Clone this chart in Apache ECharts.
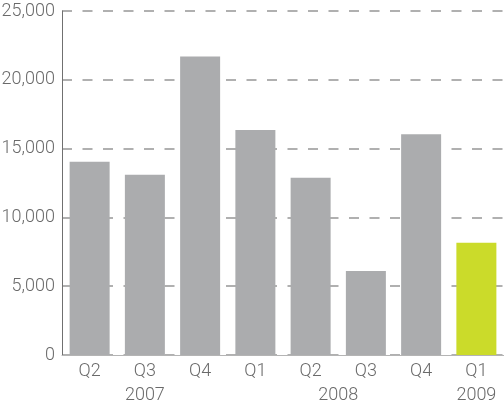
<!DOCTYPE html>
<html>
<head>
<meta charset="utf-8">
<script src="https://cdn.jsdelivr.net/npm/echarts@6/dist/echarts.min.js"></script>
<style>
html,body{margin:0;padding:0;background:#fff;}
#chart{width:504px;height:406px;}
</style>
</head>
<body>
<div id="chart"></div>
<script>
var quarters = ['Q2','Q3','Q4','Q1','Q2','Q3','Q4','Q1'];
var values = [14050, 13100, 21700, 16350, 12880, 6100, 16050, 8150];
var highlightIndex = 7;
var years = ['2007','2008','2009'];
var yearStart = [0, 3, 7];   // first category index of each year
var yearEnd = [3, 7, 8];     // one past the last category index
var yTicks = [0, 5000, 10000, 15000, 20000, 25000];

var FONT = 'Roboto, "Liberation Sans", sans-serif';
var FW = 300;
var FS = 18;
var TXT = '#6a6a6a';

var yearAt = {};
for (var i = 0; i < years.length; i++) {
  yearAt[((yearStart[i] + yearEnd[i]) / 2).toFixed(1)] = years[i];
}

var chart = echarts.init(document.getElementById('chart'), null, {renderer: 'canvas'});
chart.setOption({
  animation: false,
  grid: {left: 62, right: 0, top: 11, bottom: 51, containLabel: false, outerBoundsMode: 'none'},
  xAxis: [{
    type: 'category',
    data: quarters,
    axisLine: {show: true, lineStyle: {color: '#b4b4b4', width: 1}},
    axisTick: {show: false},
    axisLabel: {color: TXT, fontFamily: FONT, fontWeight: FW, fontSize: FS, margin: 7, interval: 0}
  }, {
    type: 'value',
    position: 'bottom',
    min: 0, max: quarters.length, interval: 0.5,
    axisLine: {show: false},
    axisTick: {show: false},
    splitLine: {show: false},
    axisLabel: {
      color: TXT, fontFamily: FONT, fontWeight: FW, fontSize: FS, margin: 31, showMinLabel: true, showMaxLabel: true,
      formatter: function (v) { return yearAt[v.toFixed(1)] || ''; }
    }
  }],
  yAxis: {
    type: 'value',
    min: yTicks[0], max: yTicks[yTicks.length - 1], interval: yTicks[1] - yTicks[0],
    axisLine: {show: true, lineStyle: {color: '#707070', width: 1}},
    axisTick: {show: false},
    splitLine: {show: true, lineStyle: {color: '#b0b0b0', width: 2, type: [10, 10.5]}},
    axisLabel: {
      color: TXT, fontFamily: FONT, fontWeight: FW, fontSize: FS, margin: 7,
      formatter: function (v) { return v.toLocaleString('en-US'); }
    }
  },
  series: [{
    type: 'bar',
    xAxisIndex: 0,
    barWidth: 40,
    data: values.map(function (v, i) {
      return {value: v, itemStyle: {color: i === highlightIndex ? '#cbdb2a' : '#abacae'}};
    })
  }]
});
</script>
</body>
</html>
